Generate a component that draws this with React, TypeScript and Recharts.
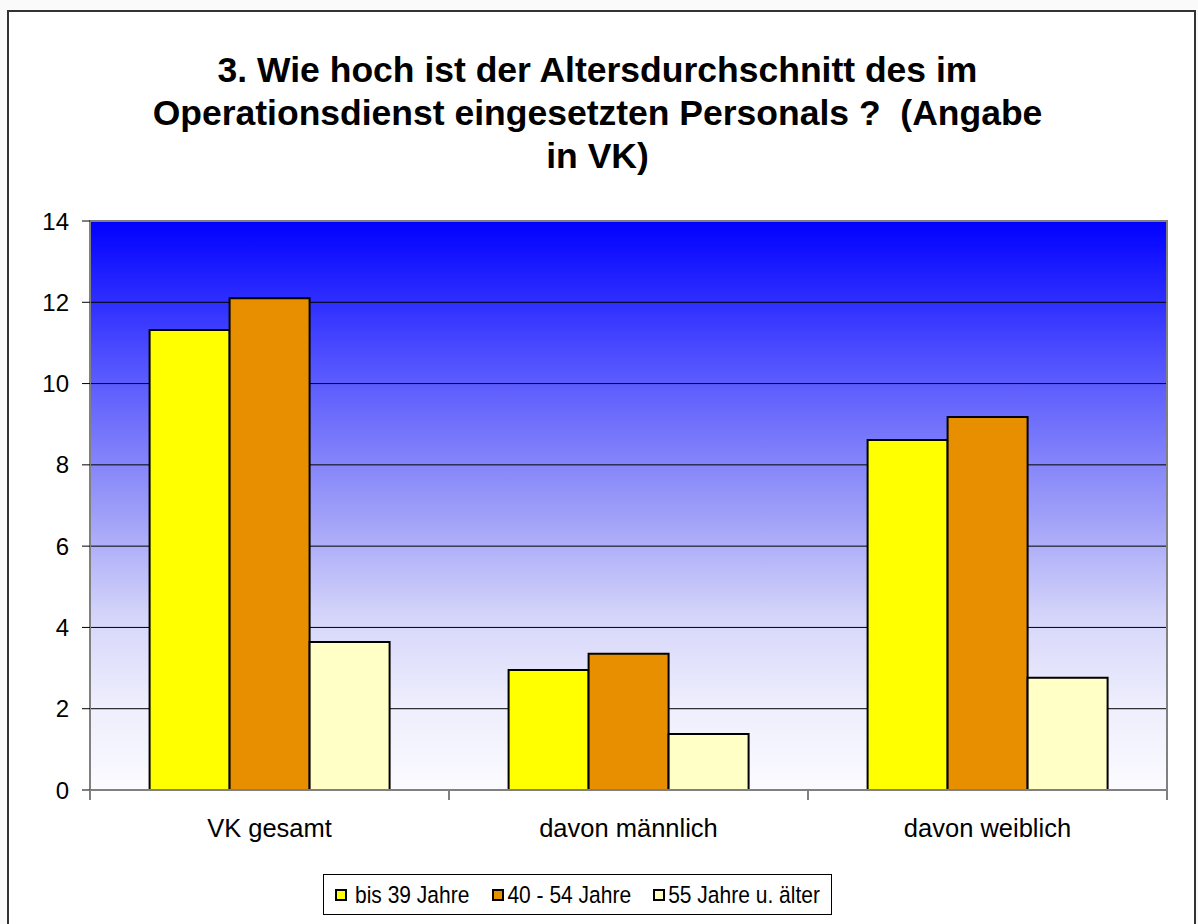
import React from "react";
import {
  BarChart,
  Bar,
  XAxis,
  YAxis,
  CartesianGrid,
  Legend,
  ReferenceArea,
} from "recharts";

const categories = ["VK gesamt", "davon männlich", "davon weiblich"];
const bis39 = [11.32, 2.95, 8.61];
const von40bis54 = [12.1, 3.35, 9.18];
const ab55 = [3.64, 1.38, 2.76];
const yTicks = [0, 2, 4, 6, 8, 10, 12, 14];

const seriesList = [
  { key: "bis39", name: "bis 39 Jahre", color: "#FFFF00" },
  { key: "von40", name: "40 - 54 Jahre", color: "#E88F00" },
  { key: "ab55", name: "55 Jahre u. älter", color: "#FFFFC6" },
];

const data = categories.map((name, i) => ({
  name,
  bis39: bis39[i],
  von40: von40bis54[i],
  ab55: ab55[i],
}));

const FONT = "Arial, 'Liberation Sans', Helvetica, sans-serif";
const CHART_W = 1185;
const CHART_H = 910;
const MARGIN = { top: 209, right: 27, left: 0, bottom: 72 };
const Y_AXIS_W = 81;
const BAND = (CHART_W - MARGIN.right - MARGIN.left - Y_AXIS_W) / categories.length;

// gap between legend swatch and text, and between items
const SWATCH_GAP = [8, 3, 3];
const ITEM_GAP = [23, 22, 0];

const CategoryTick = (props: any) => {
  const { x, y, payload, index } = props;
  const axisY = y - 10;
  return (
    <g>
      <line x1={x - BAND / 2} x2={x - BAND / 2} y1={axisY} y2={axisY + 10} stroke="#808080" strokeWidth={2} />
      {index === categories.length - 1 && (
        <line x1={x + BAND / 2} x2={x + BAND / 2} y1={axisY} y2={axisY + 10} stroke="#808080" strokeWidth={2} />
      )}
      <text x={x} y={axisY + 47} textAnchor="middle" fontSize={25.5} fontFamily={FONT} fill="#000">
        {payload.value}
      </text>
    </g>
  );
};

const legendBox = () => (
  <div
    style={{
      boxSizing: "border-box",
      width: 509,
      height: 41,
      border: "1px solid #000",
      background: "#fff",
      display: "flex",
      alignItems: "center",
      paddingLeft: 11,
      fontFamily: FONT,
      fontSize: 21,
      color: "#000",
      whiteSpace: "nowrap",
    }}
  >
    {seriesList.map((s, i) => (
      <span key={s.key} style={{ display: "flex", alignItems: "center", marginRight: ITEM_GAP[i] }}>
        <span
          style={{
            boxSizing: "border-box",
            display: "inline-block",
            width: 12,
            height: 12,
            border: "2px solid #000",
            background: s.color,
            marginRight: SWATCH_GAP[i],
          }}
        />
        <span style={{ display: "inline-block", transform: "scaleY(1.1)" }}>{s.name}</span>
      </span>
    ))}
  </div>
);

const App = () => {
  return (
    <div>
      <style>{"body{background:#fafafa}"}</style>
      <div
        style={{
          position: "absolute",
          left: 7,
          top: 10,
          width: CHART_W,
          height: CHART_H + 20,
          border: "2px solid #333",
          background: "#fff",
        }}
      >
        <div
          style={{
            position: "absolute",
            left: -4,
            top: 37,
            width: CHART_W,
            textAlign: "center",
            fontFamily: FONT,
            fontWeight: "bold",
            fontSize: 35.5,
            lineHeight: "43px",
            whiteSpace: "pre",
            color: "#000",
          }}
        >
          {"3. Wie hoch ist der Altersdurchschnitt des im\nOperationsdienst eingesetzten Personals ?  (Angabe\nin VK)"}
        </div>
        <BarChart
          width={CHART_W}
          height={CHART_H}
          data={data}
          margin={MARGIN}
          barGap={0}
          barCategoryGap="16.6%"
        >
          <defs>
            <linearGradient id="plotBg" x1="0" y1="0" x2="0" y2="1">
              <stop offset="0%" stopColor="#0000FF" />
              <stop offset="25%" stopColor="#5252FF" />
              <stop offset="50%" stopColor="#9A9AF8" />
              <stop offset="70%" stopColor="#D6D6FA" />
              <stop offset="85%" stopColor="#EEEEFD" />
              <stop offset="100%" stopColor="#FBFBFF" />
            </linearGradient>
          </defs>
          <CartesianGrid vertical={false} stroke="#000" fill="url(#plotBg)" fillOpacity={1} />
          <XAxis
            dataKey="name"
            height={60}
            tickLine={false}
            tickSize={10}
            tickMargin={0}
            axisLine={{ stroke: "#808080", strokeWidth: 2 }}
            tick={<CategoryTick />}
            interval={0}
          />
          <YAxis
            type="number"
            domain={[0, 14]}
            ticks={yTicks}
            width={Y_AXIS_W}
            tickSize={8}
            tickMargin={13}
            tickLine={{ stroke: "#000" }}
            axisLine={{ stroke: "#808080", strokeWidth: 2 }}
            tick={{ fill: "#000", fontSize: 24, fontFamily: FONT }}
          />
          <ReferenceArea y1={0} y2={14} fill="none" stroke="#808080" strokeWidth={2} />
          {seriesList.map((s) => (
            <Bar
              key={s.key}
              dataKey={s.key}
              name={s.name}
              fill={s.color}
              stroke="#000"
              strokeWidth={2}
              isAnimationActive={false}
            />
          ))}
          <Legend
            layout="horizontal"
            verticalAlign="middle"
            align="center"
            content={legendBox}
            wrapperStyle={{ left: 314, top: 862, width: 509, height: 41 }}
          />
        </BarChart>
      </div>
    </div>
  );
};

export default App;
